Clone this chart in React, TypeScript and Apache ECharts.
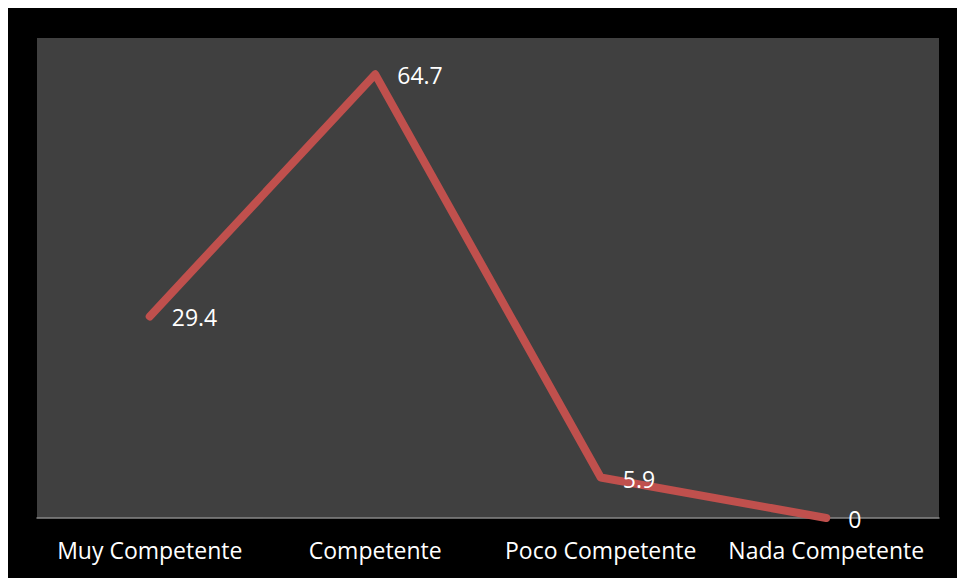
import React, { useEffect, useRef } from "react";
import * as echarts from "echarts";

const categories = ["Muy Competente", "Competente", "Poco Competente", "Nada Competente"];
const values = [29.4, 64.7, 5.9, 0];
const yMax = 70;

export default function App() {
  const ref = useRef<HTMLDivElement>(null);
  useEffect(() => {
    if (!ref.current) return;
    const chart = echarts.init(ref.current, null, { renderer: "svg" });
    chart.setOption({
      animation: false,
      backgroundColor: "#000000",
      textStyle: { fontFamily: "Open Sans" },
      grid: {
        left: 29,
        top: 30,
        right: 18,
        bottom: 60,
        show: true,
        backgroundColor: "#404040",
        borderWidth: 0,
      },
      xAxis: {
        type: "category",
        data: categories,
        boundaryGap: true,
        axisLine: { show: true, lineStyle: { color: "#868686", width: 1.5 } },
        axisTick: { show: false },
        axisLabel: {
          color: "#ffffff",
          fontSize: 23,
          fontFamily: "Open Sans",
          margin: 20,
          interval: 0,
          lineHeight: 24,
        },
      },
      yAxis: {
        type: "value",
        min: 0,
        max: yMax,
        show: false,
        splitLine: { show: false },
      },
      series: [
        {
          type: "line",
          data: values,
          symbol: "circle",
          symbolSize: 2,
          showSymbol: true,
          itemStyle: { color: "#C0504D" },
          lineStyle: { color: "#C0504D", width: 8, cap: "round", join: "round" },
          label: {
            show: true,
            position: "right",
            distance: 21,
            color: "#ffffff",
            fontSize: 23,
            fontFamily: "Open Sans",
            lineHeight: 20,
            offset: [0, 1],
          },
        },
      ],
    });
    return () => chart.dispose();
  }, []);
  return (
    <div
      ref={ref}
      style={{ position: "fixed", left: 8, top: 8, width: 949, height: 570 }}
    />
  );
}
